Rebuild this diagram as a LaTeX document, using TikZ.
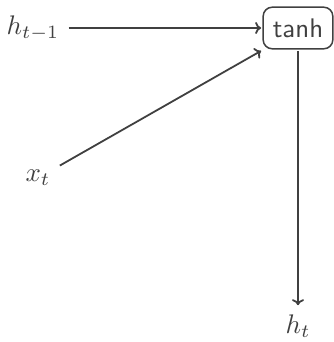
\documentclass[tikz,border=0pt]{standalone}
\usetikzlibrary{arrows.meta}
\definecolor{ink}{HTML}{404040}
\begin{document}
\begin{tikzpicture}[x=1bp,y=-1bp,
  lbl/.style={scale=2.7, text=ink, inner sep=3.3bp},
  fn/.style={scale=2.7, draw=ink, line width=1.5bp, rounded corners=9bp, minimum width=25.8bp, minimum height=15.4bp, inner sep=1bp, font=\sffamily, text=ink},
  conn/.style={draw=ink, line width=1.8bp, -{To[length=6bp,width=12bp]}}]
\useasboundingbox (0,0) rectangle (334,342);
\node[fn] (tanh) at (298,28) {tanh};
\node[lbl] (hm1) at (33,28) {$h_{t-1}$};
\node[lbl] (xt) at (38,178) {$x_t$};
\node[lbl] (ht) at (298,326) {$h_t$};
\draw[conn] (hm1.east |- tanh.west) -- (tanh.west);
\draw[conn] (xt) -- (tanh.south west);
\draw[conn] (tanh) -- (ht);
\end{tikzpicture}
\end{document}
